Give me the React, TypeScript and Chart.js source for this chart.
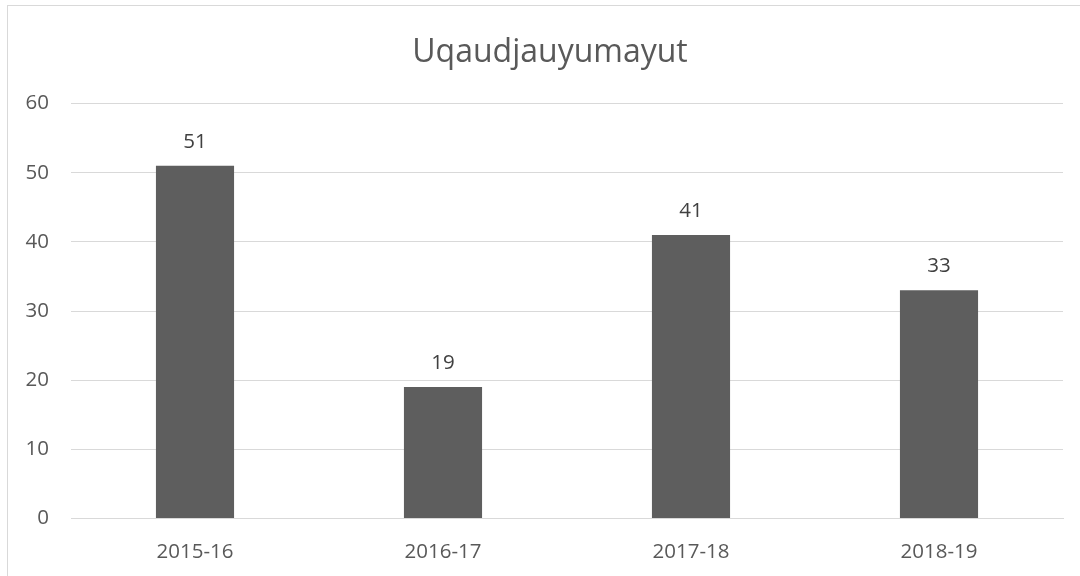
import React, { useEffect, useRef } from "react";
import { Chart, registerables } from "chart.js";

Chart.register(...registerables);

const titleText = "Uqaudjauyumayut";
const categories = ["2015-16", "2016-17", "2017-18", "2018-19"];
const values = [51, 19, 41, 33];
const yMin = 0;
const yMax = 60;
const yStep = 10;

const FONT = "'Open Sans', 'Liberation Sans', sans-serif";
const TEXT = "#595959";

const valueLabels = {
  id: "valueLabels",
  afterDatasetsDraw(chart: any) {
    const ctx = chart.ctx;
    const meta = chart.getDatasetMeta(0);
    ctx.save();
    ctx.font = `20.5px ${FONT}`;
    ctx.fillStyle = "#404040";
    ctx.textAlign = "center";
    ctx.textBaseline = "alphabetic";
    meta.data.forEach((bar: any, i: number) => {
      ctx.fillText(String(values[i]), bar.x, bar.y - 18);
    });
    ctx.restore();
  },
};

const titlePlugin = {
  id: "titleDraw",
  afterDraw(chart: any) {
    const ctx = chart.ctx;
    ctx.save();
    ctx.font = `32px ${FONT}`;
    ctx.fillStyle = TEXT;
    ctx.textAlign = "center";
    ctx.textBaseline = "alphabetic";
    ctx.fillText(titleText, 550, 62);
    ctx.restore();
  },
};

export default function App() {
  const ref = useRef<HTMLCanvasElement>(null);
  useEffect(() => {
    const chart = new Chart(ref.current!, {
      type: "bar",
      data: {
        labels: categories,
        datasets: [
          {
            data: values,
            backgroundColor: "#5e5e5e",
            borderWidth: 0,
            categoryPercentage: 0.315,
            barPercentage: 1,
          },
        ],
      },
      options: {
        animation: false,
        responsive: false,
        layout: { padding: { top: 103.5, left: 0, right: 17, bottom: 17.5 } },
        plugins: { legend: { display: false }, title: { display: false }, tooltip: { enabled: false } },
        scales: {
          x: {
            grid: { display: false },
            border: { display: true, color: "#d9d9d9" },
            ticks: { color: TEXT, font: { family: FONT, size: 20.5 }, padding: 13 },
            afterFit: (s: any) => {
              s.height = 40;
            },
          },
          y: {
            min: yMin,
            max: yMax,
            ticks: { stepSize: yStep, color: TEXT, font: { family: FONT, size: 20.5 }, padding: 22 },
            grid: { color: "#d9d9d9", drawTicks: false, lineWidth: 1 },
            border: { display: false },
            afterFit: (s: any) => {
              s.width = 71;
            },
          },
        },
      },
      plugins: [valueLabels, titlePlugin],
    });
    return () => chart.destroy();
  }, []);
  return (
    <div style={{ position: "fixed", left: 0, top: 0, width: 1080, height: 576, background: "#fff" }}>
      <div
        style={{
          position: "absolute",
          left: 7,
          top: 5,
          width: 1080,
          height: 580,
          border: "1px solid #d9d9d9",
          boxSizing: "border-box",
        }}
      />
      <canvas ref={ref} width={1080} height={576} style={{ position: "absolute", left: 0, top: 0 }} />
    </div>
  );
}
